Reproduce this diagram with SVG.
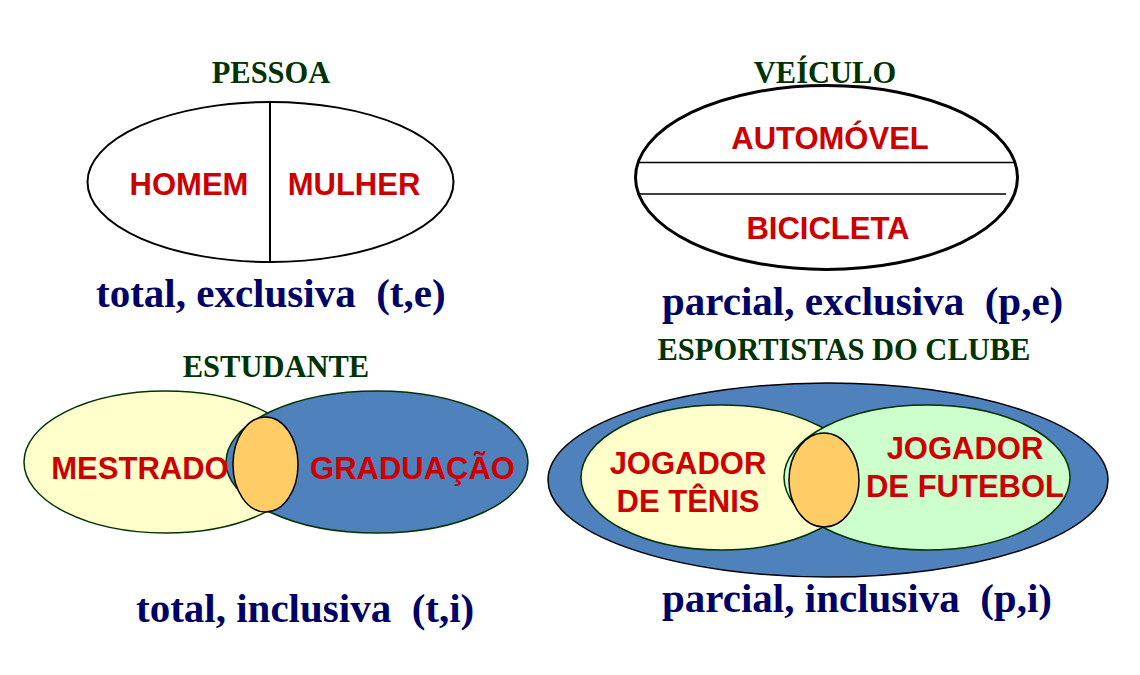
<svg xmlns="http://www.w3.org/2000/svg" width="1140" height="675" viewBox="0 0 1140 675">
<style>
.title{font-family:"Liberation Serif","Times New Roman",serif;font-weight:bold;font-size:30.5px;fill:#003300;text-anchor:middle}
.lbl{font-family:"Liberation Sans",Arial,sans-serif;font-weight:bold;font-size:31px;fill:#CC0000;text-anchor:middle}
.cap{font-family:"Liberation Serif","Times New Roman",serif;font-weight:bold;font-size:41px;fill:#000066;white-space:pre}
.plain{fill:#FFFFFF;stroke:#000000}
.yel{fill:#FFFFCC;stroke:#003300;stroke-width:1.5}
.blu{fill:#4F81BD;stroke:#003300;stroke-width:1.5}
.grn{fill:#CCFFCC;stroke:#003300;stroke-width:1.5}
.org{fill:#FFCC66;stroke:#000000;stroke-width:1.5}
.div{stroke:#000000;fill:none}
</style>
<rect width="1140" height="675" fill="#FFFFFF"/>

<g id="pessoa">
  <text class="title" x="271" y="83">PESSOA</text>
  <ellipse class="plain" cx="270.5" cy="182" rx="183" ry="80" stroke-width="2"/>
  <line class="div" x1="270" y1="102" x2="270" y2="262" stroke-width="2"/>
  <text class="lbl" x="189" y="195">HOMEM</text>
  <text class="lbl" x="354" y="195">MULHER</text>
  <text class="cap" x="96" y="307">total, exclusiva  (t,e)</text>
</g>

<g id="veiculo">
  <text class="title" x="825" y="83">VEÍCULO</text>
  <ellipse class="plain" cx="826.5" cy="177.5" rx="191" ry="92" stroke-width="3"/>
  <text class="lbl" x="830" y="149">AUTOMÓVEL</text>
  <text class="lbl" x="828" y="239">BICICLETA</text>
  <text class="cap" x="662" y="315">parcial, exclusiva  (p,e)</text>
</g>

<g id="estudante">
  <text class="title" x="276" y="377">ESTUDANTE</text>
  <ellipse class="yel" cx="165.5" cy="462" rx="141.5" ry="71"/>
  <ellipse class="blu" cx="377" cy="462" rx="151" ry="71"/>
  <ellipse class="org" cx="265.5" cy="464.5" rx="32.5" ry="47.5"/>
  <text class="lbl" x="140" y="479">MESTRADO</text>
  <text class="lbl" x="412.5" y="479">GRADUAÇÃO</text>
  <text class="cap" x="136" y="622">total, inclusiva  (t,i)</text>
</g>

<g id="esportistas">
  <text class="title" x="844" y="360">ESPORTISTAS DO CLUBE</text>
  <ellipse cx="828" cy="480" rx="280" ry="97" fill="#4F81BD" stroke="#000000" stroke-width="1.5"/>
  <ellipse class="yel" cx="721" cy="477.5" rx="140" ry="72.5"/>
  <ellipse class="grn" cx="927" cy="477.5" rx="143" ry="72.5"/>
  <ellipse class="org" cx="824" cy="480" rx="35" ry="47"/>
  <text class="lbl" x="688" y="474">JOGADOR</text>
  <text class="lbl" x="688" y="512">DE TÊNIS</text>
  <text class="lbl" x="965" y="459">JOGADOR</text>
  <text class="lbl" x="965" y="497">DE FUTEBOL</text>
  <text class="cap" x="662" y="612">parcial, inclusiva  (p,i)</text>
</g>

<g id="connectors">
  <line class="div" x1="637" y1="162.5" x2="1016" y2="162.5" stroke-width="1.5"/>
  <line class="div" x1="640" y1="194" x2="1006" y2="194" stroke-width="1.5"/>
</g>
</svg>
